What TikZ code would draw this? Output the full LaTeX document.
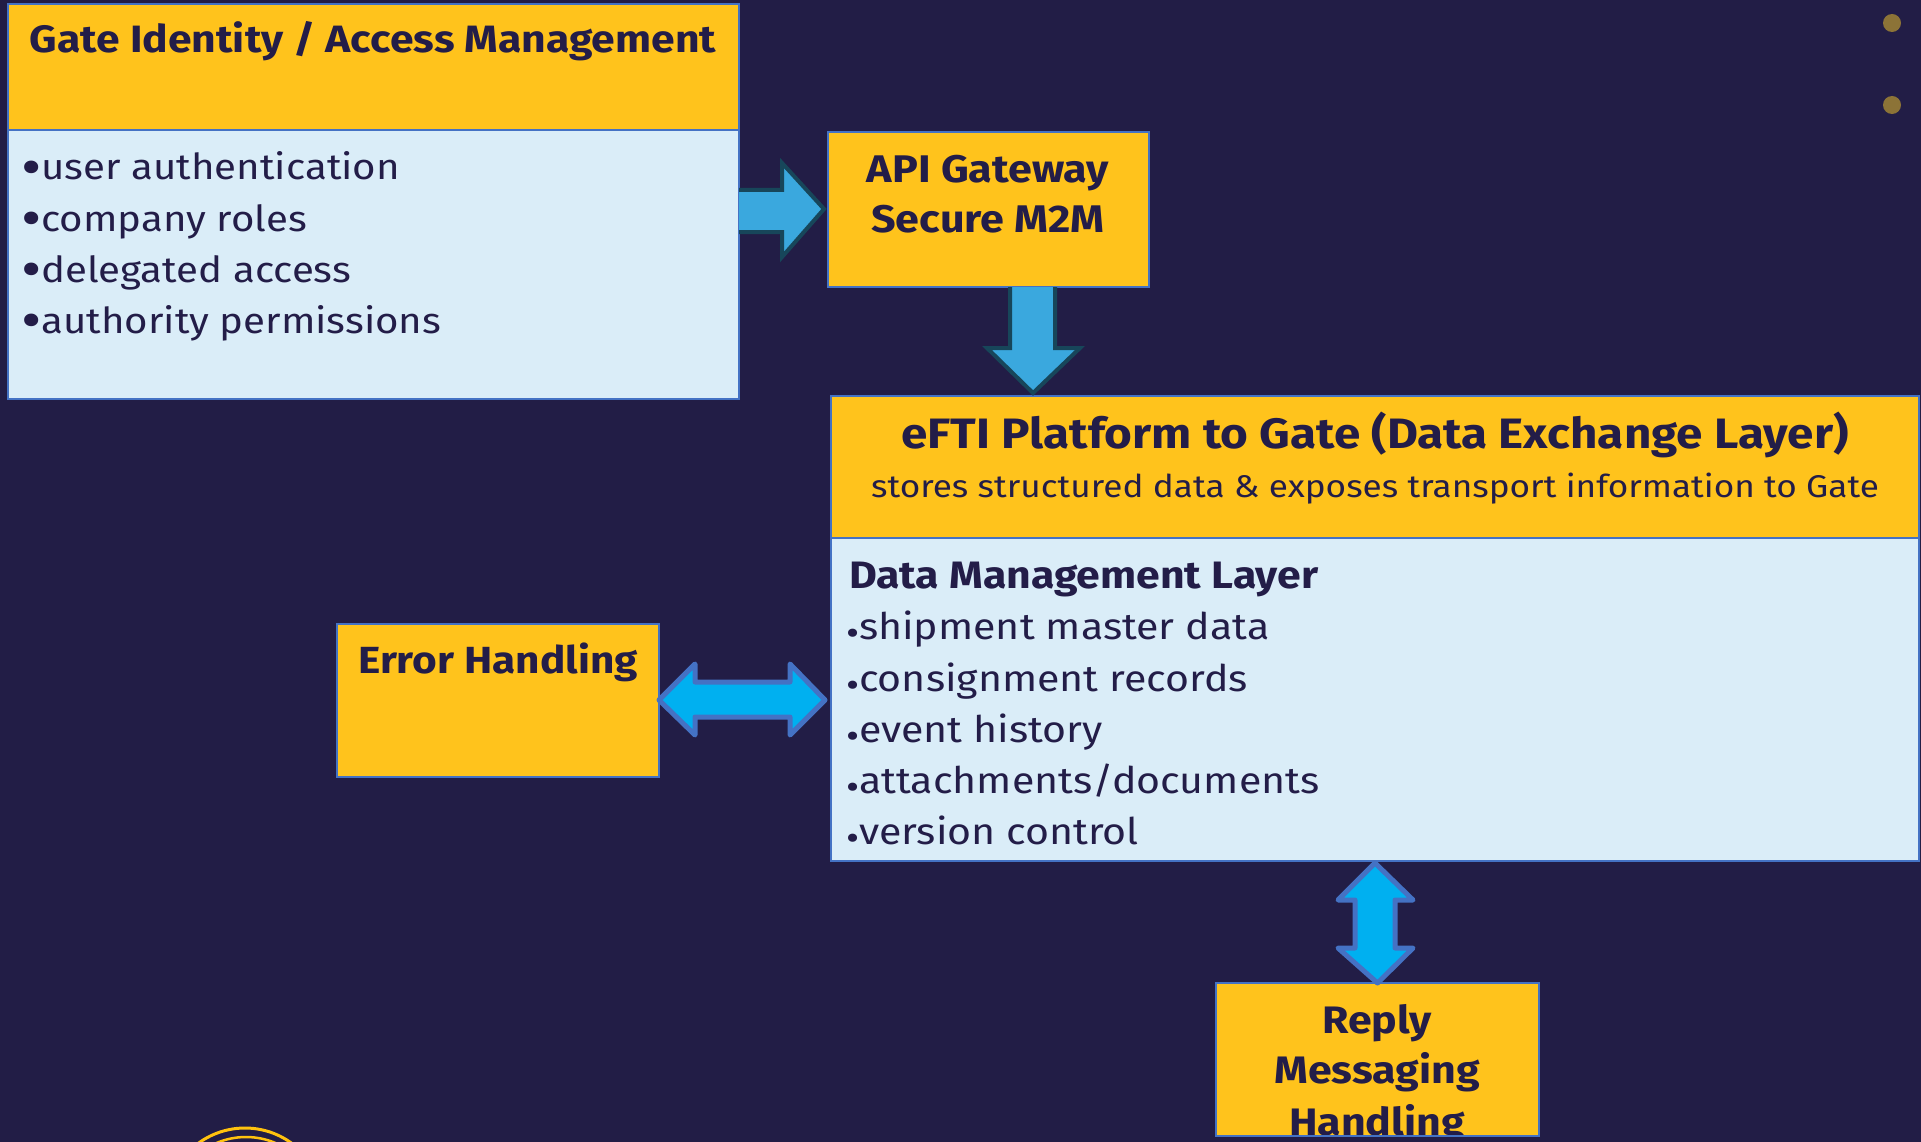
\documentclass[tikz,border=0pt]{standalone}
\usepackage{fontspec}
\setmainfont[FakeStretch=1.12]{Fira Sans}
\definecolor{bg}{RGB}{34,29,70}
\definecolor{gold}{RGB}{255,195,28}
\definecolor{pale}{RGB}{218,237,248}
\definecolor{ink}{RGB}{35,29,72}
\definecolor{edge}{RGB}{68,114,196}
\definecolor{tealfill}{RGB}{58,168,222}
\definecolor{tealedge}{RGB}{23,70,90}
\definecolor{cyanfill}{RGB}{0,176,240}
\definecolor{dotc}{RGB}{140,115,55}
\definecolor{ringc}{RGB}{255,194,14}
\newcommand{\fs}[1]{\fontsize{#1}{#1}\selectfont}
\newcommand{\gb}{\smash{\raisebox{-6pt}{\fs{56}•}}}
\newcommand{\db}{\smash{\raisebox{-6.5pt}{\fs{36}•}}}
\begin{document}
\begin{tikzpicture}[x=1pt,y=-1pt,
  box/.style={draw=edge, line width=2pt, inner sep=0pt, outer sep=0pt, anchor=north west},
  hbox/.style={box, fill=gold},
  pbox/.style={box, fill=pale},
  txt/.style={inner sep=0pt, outer sep=0pt, text=ink},
  ttl/.style={txt, anchor=base, font=\fs{#1}\bfseries},
  lst/.style={txt, anchor=base west, font=\fs{#1}},
  tealfillst/.style={fill=tealfill},
  tealline/.style={draw=tealedge, line width=4pt, line join=miter},
  dblarrow/.style={fill=cyanfill, draw=edge, line width=5pt, line join=round}
]
\useasboundingbox[fill=bg] (0,0) rectangle (1921,1142);

% decorative dots and ring
\fill[dotc] (1892,23) circle (9);
\fill[dotc] (1892,105) circle (9);
\draw[ringc, line width=3pt] (245,1207) circle (79);
\draw[ringc, line width=2.5pt] (246,1212) circle (75);

% Gate identity box
\node[hbox, minimum width=731pt, minimum height=126pt] (gatehead) at (8,4) {};
\node[pbox, minimum width=731pt, minimum height=269pt] (gatebody) at (8,130) {};
\node[ttl=38.1] (gatetitle) at (373,53) {Gate Identity / Access Management};
\node[lst=35.9] (g1) at (21,180) {\gb user authentication};
\node[lst=35.9] (g2) at (21,231) {\gb company roles};
\node[lst=35.9] (g3) at (21,282) {\gb delegated access};
\node[lst=35.9] (g4) at (21,333) {\gb authority permissions};

% API gateway
\node[hbox, minimum width=321pt, minimum height=155pt] (api) at (828,132) {};
\node[ttl=38.5] (api1) at (988,183) {API Gateway};
\node[ttl=38.5] (api2) at (988,232) {Secure M2M};

% eFTI platform
\node[hbox, minimum width=1088pt, minimum height=142pt] (eftihead) at (831,396) {};
\node[pbox, minimum width=1088pt, minimum height=323pt] (eftibody) at (831,538) {};
\node[ttl=42.5] (eftititle) at (1375,448) {eFTI Platform to Gate (Data Exchange Layer)};
\node[txt, anchor=base, font=\fs{31.4}] (eftisub) at (1375,497) {stores structured data \& exposes transport information to Gate};
\node[txt, anchor=base west, font=\fs{38.2}\bfseries] (dml) at (849,588) {Data Management Layer};
\node[lst=36.7] (d1) at (846,639) {\db shipment master data};
\node[lst=36.7] (d2) at (846,691) {\db consignment records};
\node[lst=36.7] (d3) at (846,742) {\db event history};
\node[lst=36.7] (d4) at (846,793) {\db attachments/documents};
\node[lst=36.7] (d5) at (846,844) {\db version control};

% Error handling
\node[hbox, minimum width=322pt, minimum height=153pt] (err) at (337,624) {};
\node[ttl=37.8] (errt) at (498,673) {Error Handling};

% Reply messaging handling
\node[hbox, minimum width=323pt, minimum height=153pt] (reply) at (1216,983) {};
\begin{scope}
\clip (reply.north west) rectangle (reply.south east);
\node[ttl=38.3] (r1) at (1377,1033) {Reply};
\node[ttl=38.3] (r2) at (1377,1083) {Messaging};
\node[ttl=38.3] (r3) at (1377,1135) {Handling};
\end{scope}
\draw[edge, line width=2pt] (reply.north west) rectangle (reply.south east);

% teal arrow: gate -> api
\fill[tealfillst] (gatebody.east |- 0,190) -- (782,190) -- (782,163) -- (824,209) -- (782,257) -- (782,232) -- (gatebody.east |- 0,232) -- cycle;
\draw[tealline] (gatebody.east |- 0,190) -- (782,190) -- (782,163) -- (824,209) -- (782,257) -- (782,232) -- (gatebody.east |- 0,232);

% teal arrow: api -> efti
\fill[tealfillst] (1010,0 |- api.south) -- (1010,348) -- (987,348) -- (1033,393) -- (1080,348) -- (1055,348) -- (1055,0 |- api.south) -- cycle;
\draw[tealline] (1010,0 |- api.south) -- (1010,348) -- (987,348) -- (1033,393) -- (1080,348) -- (1055,348) -- (1055,0 |- api.south);

% double arrow: error <-> efti
\draw[dblarrow] (err.east |- 0,700) -- (695,664) -- (695,682) -- (790,682) -- (790,664) -- (825,700) -- (790,735) -- (790,717) -- (695,717) -- (695,735) -- cycle;

% double arrow: efti <-> reply
\draw[dblarrow] (1375,863) -- (1413,900) -- (1395,900) -- (1395,948) -- (1413,948) -- (reply.north) -- (1338,948) -- (1355,948) -- (1355,900) -- (1338,900) -- cycle;
\end{tikzpicture}
\end{document}
